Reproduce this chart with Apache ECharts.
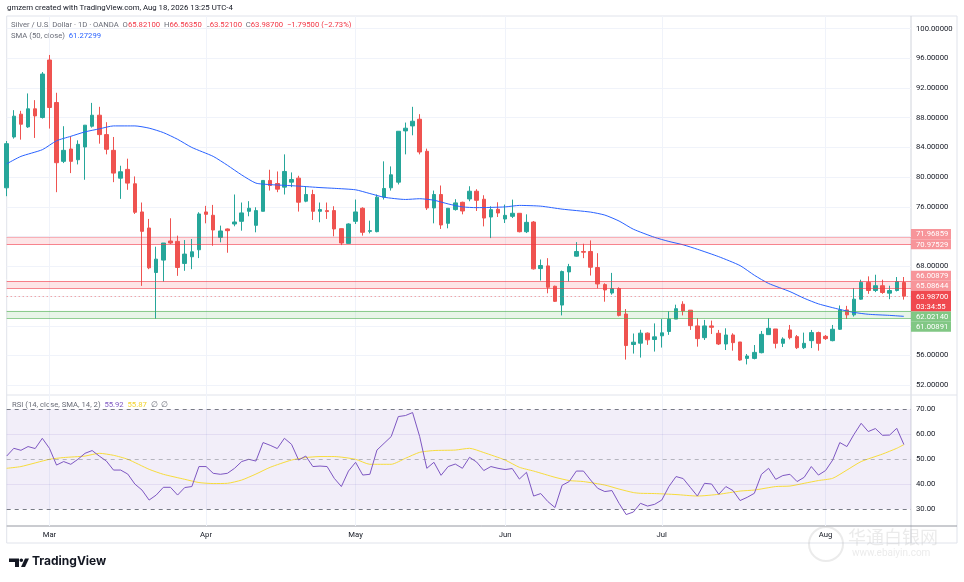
<!DOCTYPE html>
<html>
<head>
<meta charset="utf-8">
<title>Silver / U.S. Dollar 1D</title>
<script src="https://cdn.jsdelivr.net/npm/echarts@6/dist/echarts.min.js"></script>
<style>
  html, body { margin: 0; padding: 0; background: #fff; }
  #chart { width: 964px; height: 582px; }
</style>
</head>
<body>
<div id="chart"></div>
<script>
// trading days: weekdays 2026-02-20 .. 2026-08-18, Good Friday closed
const holidays = ['2026-04-03'];
const dates = [];
(function () {
  const d = new Date(Date.UTC(2026, 1, 20));
  const end = Date.UTC(2026, 7, 18);
  while (d.getTime() <= end) {
    const wd = d.getUTCDay();
    const s = d.toISOString().slice(0, 10);
    if (wd !== 0 && wd !== 6 && holidays.indexOf(s) < 0) dates.push(s);
    d.setUTCDate(d.getUTCDate() + 1);
  }
})();
const monthNames = ['Jan', 'Feb', 'Mar', 'Apr', 'May', 'Jun', 'Jul', 'Aug', 'Sep', 'Oct', 'Nov', 'Dec'];

// OHLC
const opens = [78.57, 85.41, 88.48, 86.77, 89.20, 88.03, 95.77, 90.05, 82.13, 83.79,
  82.35, 84.06, 86.86, 88.34, 85.73, 83.61, 79.87, 81.05, 79.11, 75.32,
  73.16, 67.17, 68.84, 71.41, 71.36, 68.39, 69.29, 70.23, 75.32, 74.87,
  71.90, 73.03, 73.70, 74.06, 75.41, 73.52, 75.41, 79.56, 79.15, 78.66,
  79.33, 79.87, 76.77, 77.67, 75.41, 75.50, 75.50, 73.07, 71.09, 74.06,
  75.82, 72.71, 72.67, 77.31, 78.57, 79.33, 86.23, 86.90, 87.80, 83.48,
  75.86, 77.67, 73.79, 75.64, 76.62, 77.07, 78.11, 77.03, 74.64, 75.68,
  74.37, 74.73, 75.14, 72.66, 73.96, 67.70, 68.06, 65.32, 62.79, 67.25,
  69.37, 70.00, 70.00, 67.84, 65.54, 64.41, 65.00, 61.58, 57.48, 57.66,
  59.01, 58.15, 58.65, 59.23, 60.90, 62.90, 62.10, 59.98, 58.40, 59.98,
  58.99, 57.55, 58.76, 57.82, 55.61, 55.61, 56.38, 58.81, 59.57, 57.64,
  59.44, 58.54, 57.05, 58.00, 59.08, 58.58, 58.00, 59.53, 62.14, 61.47,
  63.58, 65.84, 64.75, 65.39, 64.39, 64.75, 65.821];
const highs = [84.87, 89.02, 88.93, 91.27, 90.37, 94.15, 96.45, 91.36, 86.86, 85.50,
  84.96, 87.00, 90.00, 89.47, 87.40, 85.41, 81.54, 82.49, 80.10, 76.59,
  74.38, 70.64, 71.14, 74.47, 72.13, 71.54, 71.68, 75.28, 76.14, 76.27,
  73.48, 73.10, 77.67, 76.59, 76.77, 75.95, 79.60, 81.00, 80.77, 83.07,
  80.64, 80.19, 78.75, 78.30, 76.59, 76.59, 76.09, 73.10, 73.79, 76.99,
  75.95, 74.15, 77.67, 82.13, 81.45, 86.20, 87.35, 89.47, 88.48, 83.84,
  78.20, 78.88, 75.82, 77.04, 76.70, 78.78, 78.38, 77.57, 76.08, 76.62,
  76.31, 76.98, 75.14, 75.00, 74.10, 68.92, 69.10, 65.40, 67.43, 68.33,
  71.26, 71.04, 71.49, 69.77, 65.72, 67.12, 65.18, 62.25, 58.96, 59.46,
  59.10, 60.32, 60.90, 61.94, 62.84, 63.30, 62.10, 61.02, 60.79, 60.70,
  59.44, 59.66, 58.99, 57.82, 56.20, 57.41, 59.30, 61.02, 59.57, 58.45,
  60.11, 58.76, 59.08, 59.44, 59.21, 58.76, 60.11, 62.73, 62.68, 65.07,
  66.20, 66.65, 66.87, 66.20, 65.39, 66.56, 66.5635];
const lows = [77.44, 85.19, 85.05, 86.63, 85.28, 87.89, 86.54, 77.98, 81.90, 80.55,
  81.72, 79.65, 86.68, 84.51, 83.07, 79.33, 77.08, 78.30, 75.05, 65.37,
  67.62, 60.95, 65.95, 71.00, 66.72, 67.40, 67.62, 69.11, 73.79, 70.77,
  71.23, 69.83, 73.39, 72.80, 74.74, 72.58, 75.40, 78.20, 77.98, 77.67,
  78.66, 75.37, 76.63, 74.24, 73.93, 74.38, 72.04, 70.86, 71.09, 73.70,
  72.13, 72.44, 72.58, 76.99, 78.20, 79.02, 83.07, 85.64, 83.07, 75.59,
  73.79, 73.03, 73.12, 75.50, 75.00, 76.76, 75.45, 73.38, 71.80, 74.64,
  73.83, 74.50, 72.57, 72.48, 67.57, 66.08, 64.37, 63.20, 61.40, 65.95,
  69.30, 69.10, 66.76, 65.05, 63.24, 64.19, 61.26, 55.45, 56.26, 55.72,
  57.43, 56.53, 57.07, 58.78, 60.90, 61.40, 59.44, 57.19, 58.09, 58.90,
  57.41, 56.74, 56.65, 55.30, 54.80, 55.48, 56.29, 58.81, 56.96, 57.14,
  58.18, 56.87, 56.87, 57.00, 56.65, 58.09, 57.91, 59.44, 60.93, 61.24,
  63.50, 64.30, 64.53, 64.30, 63.58, 64.62, 63.521];
const closes = [84.51, 88.21, 87.13, 89.20, 88.25, 93.88, 89.38, 81.95, 83.61, 82.13,
  84.42, 87.00, 88.34, 85.73, 83.75, 80.55, 80.73, 79.20, 75.28, 72.71,
  67.80, 68.97, 71.14, 71.14, 67.85, 69.65, 69.96, 75.05, 75.00, 72.89,
  72.76, 72.80, 73.97, 75.19, 75.82, 75.50, 79.56, 78.88, 78.39, 80.77,
  79.69, 76.63, 77.67, 75.41, 75.64, 75.37, 73.03, 71.14, 73.70, 75.32,
  72.58, 72.80, 77.31, 78.48, 80.32, 86.18, 86.59, 87.53, 83.39, 75.86,
  77.67, 73.57, 75.82, 76.54, 75.45, 78.11, 76.89, 74.50, 75.63, 75.18,
  74.86, 75.14, 72.66, 73.92, 67.66, 68.11, 65.18, 63.29, 67.30, 67.97,
  70.00, 69.90, 67.88, 65.63, 64.82, 65.00, 61.40, 57.34, 57.79, 59.01,
  58.11, 58.51, 59.05, 60.90, 62.30, 62.00, 60.02, 58.27, 59.98, 59.80,
  57.55, 58.76, 57.73, 55.39, 55.93, 56.42, 58.85, 59.66, 57.64, 58.22,
  58.40, 57.05, 57.64, 59.08, 57.64, 58.27, 59.53, 62.14, 61.47, 63.58,
  65.84, 64.75, 65.39, 64.48, 64.75, 65.93, 63.987];

// SMA(50) readings [bar index, value]
const smaPoints = [[0, 81.8], [2, 82.8], [5, 83.7], [7, 84.9], [9, 85.5], [11, 86.1], [13, 86.5],
  [15, 86.9], [18, 86.9], [20, 86.6], [22, 86.0], [24, 85.1], [26, 84.0], [29, 82.8], [31, 81.6],
  [33, 80.3], [35, 79.2], [37, 79.0], [39, 78.9], [41, 78.8], [44, 78.6], [46, 78.5], [49, 78.3],
  [51, 77.8], [53, 77.3], [56, 77.0], [58, 77.1], [60, 76.9], [62, 76.4], [64, 76.0], [66, 75.9],
  [70, 76.0], [72, 76.2], [75, 76.1], [78, 75.7], [82, 75.3], [84, 74.9], [86, 74.1], [88, 73.0],
  [91, 71.9], [93, 71.35], [95, 70.9], [97, 70.3], [100, 69.3], [103, 68.1], [105, 66.8],
  [107, 65.7], [110, 64.6], [112, 63.7], [114, 62.95], [117, 62.2], [119, 61.8], [121, 61.55],
  [124, 61.4], [126, 61.27]];

// RSI(14) per bar
const rsiValues = [51.3, 54.4, 53.6, 55.1, 54.3, 58.4, 54.4, 47.7, 49.1, 48.0,
  50.0, 52.4, 53.5, 51.3, 49.3, 45.7, 45.7, 44.1, 40.1, 37.7,
  33.7, 35.7, 38.8, 38.8, 35.7, 38.7, 39.1, 47.1, 47.1, 44.4,
  44.0, 44.4, 46.4, 49.1, 50.0, 49.3, 56.7, 55.6, 54.3, 58.4,
  56.0, 49.7, 51.3, 47.1, 47.3, 47.1, 42.4, 39.1, 45.3, 48.8,
  43.7, 44.0, 53.7, 56.4, 59.1, 67.1, 67.5, 68.7, 59.1, 46.4,
  48.8, 43.6, 47.1, 48.1, 46.4, 50.8, 48.9, 45.5, 47.1, 46.4,
  45.9, 46.3, 42.1, 44.8, 35.3, 36.3, 33.1, 30.7, 39.6, 41.1,
  45.3, 45.3, 41.7, 38.4, 37.1, 37.5, 32.4, 27.9, 28.9, 32.4,
  31.3, 32.0, 33.7, 39.1, 43.1, 42.3, 38.8, 35.3, 40.4, 40.1,
  36.0, 39.1, 37.5, 33.5, 34.8, 36.4, 44.0, 46.4, 42.0, 43.5,
  44.0, 41.1, 42.8, 47.1, 43.7, 45.5, 49.7, 56.7, 55.1, 60.0,
  64.4, 61.1, 62.3, 59.6, 59.7, 62.4, 55.92];
// RSI-based MA readings [bar index, value]
const rsiMaPoints = [[0, 46.4], [2, 47.1], [6, 50.0], [8, 50.7], [11, 51.3], [13, 52.4], [15, 51.6],
  [17, 50.0], [20, 46.0], [22, 44.0], [25, 42.0], [27, 40.7], [29, 40.3], [31, 40.4], [33, 41.7],
  [35, 44.1], [37, 46.8], [40, 49.7], [42, 50.7], [44, 51.1], [46, 51.1], [49, 50.0], [51, 48.0],
  [54, 48.0], [56, 50.4], [58, 52.8], [60, 53.5], [63, 53.7], [65, 54.4], [67, 52.7], [70, 49.7],
  [72, 46.8], [74, 45.3], [77, 42.8], [79, 41.5], [81, 41.1], [84, 39.7], [86, 38.1], [88, 36.7],
  [89, 36.4], [91, 36.3], [94, 35.9], [97, 35.3], [100, 36.0], [103, 37.3], [105, 37.7],
  [108, 39.1], [110, 39.3], [112, 40.4], [114, 41.5], [116, 42.4], [118, 45.7], [120, 49.1],
  [123, 52.1], [125, 54.4], [126, 55.87]];

// drawn zones and price tags
const resistZone = [70.97529, 71.96859];
const pivotZone = [65.08644, 66.00879];
const supportZone = [61.00891, 62.02140];
const lastPrice = 63.987;
const countdown = '03:34:55';
const tagValues = [71.96859, 70.97529, 66.00879, 65.08644, 63.98700, 62.02140, 61.00891];
const tagKinds = ['zone', 'zone', 'zone', 'zone', 'last', 'support', 'support'];

// axis ticks
const priceGridLevels = [52, 56, 60, 64, 68, 72, 76, 80, 84, 88, 92, 96, 100];
const priceTickLabels = [52, 56, 68, 76, 80, 84, 88, 92, 96, 100];
const rsiLevels = [30, 40, 50, 60, 70];

const cats = dates.concat(['']);
const isMonthStart = cats.map(function (d, i) {
  return i > 0 && d !== '' && d.slice(5, 7) !== cats[i - 1].slice(5, 7);
});
function monthTick(index) { return isMonthStart[index]; }
function monthLabel(value) { return value ? monthNames[+value.slice(5, 7) - 1] : ''; }

const candles = opens.map(function (o, i) { return [o, closes[i], lows[i], highs[i]]; });

const UP = '#26a69a', DOWN = '#ef5350';
const FONT = 'Roboto, "Liberation Sans", sans-serif';
const SMALL = 7.7;
const tagColors = { zone: '#f7959a', last: '#f0494f', support: '#81c784' };

function renderTags(params, api) {
  const cs = params.coordSys;
  const x0 = cs.x + cs.width;
  const h = 10.2, w = 40;
  const items = tagValues.map(function (v, i) {
    return { v: v, kind: tagKinds[i], y: api.coord([0, v])[1] };
  });
  // keep the last-price tag in place, push the others clear of it
  const ai = tagKinds.indexOf('last');
  let top = items[ai].y - h / 2;
  for (let i = ai - 1; i >= 0; i--) {
    items[i].y = Math.min(items[i].y, top - h / 2);
    top = items[i].y - h / 2;
  }
  let bottom = items[ai].y + h * 1.5;
  for (let i = ai + 1; i < items.length; i++) {
    items[i].y = Math.max(items[i].y, bottom + h / 2);
    bottom = items[i].y + h / 2;
  }
  const children = [];
  items.forEach(function (it) {
    const tall = it.kind === 'last';
    children.push({ type: 'rect', shape: { x: x0, y: it.y - h / 2, width: w, height: tall ? h * 2 : h },
      style: { fill: tagColors[it.kind] } });
    children.push({ type: 'text', x: x0 + 5, y: it.y + 0.5,
      style: { text: it.v.toFixed(5), fill: '#ffffff', font: SMALL + 'px ' + FONT, align: 'left', verticalAlign: 'middle' } });
    if (tall) {
      children.push({ type: 'text', x: x0 + 5, y: it.y + h + 0.5,
        style: { text: countdown, fill: '#ffffff', font: SMALL + 'px ' + FONT, align: 'left', verticalAlign: 'middle' } });
    }
  });
  return { type: 'group', children: children };
}

const chart = echarts.init(document.getElementById('chart'));

const axisText = { color: '#131722', fontSize: SMALL, fontFamily: FONT };
const gridLine = { show: true, lineStyle: { color: '#f0f3fa', width: 1 } };
const gray = { fill: '#6a6d78', fontSize: SMALL, fontFamily: FONT };

const option = {
  animation: false,
  backgroundColor: '#ffffff',
  textStyle: { fontFamily: FONT },
  grid: [
    { left: 6.7, right: 53, top: 16, height: 379 },
    { left: 6.7, right: 53, top: 395, height: 131 }
  ],
  xAxis: [
    { type: 'category', gridIndex: 0, data: cats, boundaryGap: false,
      axisLine: { show: false }, axisTick: { show: false }, axisLabel: { show: false },
      splitLine: Object.assign({ interval: monthTick }, gridLine) },
    { type: 'category', gridIndex: 1, data: cats, boundaryGap: false,
      axisLine: { show: false }, axisTick: { show: false },
      axisLabel: Object.assign({ interval: monthTick, formatter: monthLabel, margin: 5 }, axisText),
      splitLine: Object.assign({ interval: monthTick }, gridLine) }
  ],
  yAxis: [
    { type: 'value', gridIndex: 0, position: 'right', min: 50.684, max: 101.693, scale: true,
      axisLine: { show: false },
      axisTick: { show: false, customValues: priceGridLevels },
      axisLabel: Object.assign({ customValues: priceTickLabels, margin: 5,
        formatter: function (v) { return v.toFixed(5); } }, axisText),
      splitLine: gridLine },
    { type: 'value', gridIndex: 1, position: 'right', min: 23.32, max: 75.72, scale: true,
      axisLine: { show: false },
      axisTick: { show: false, customValues: rsiLevels },
      axisLabel: Object.assign({ customValues: rsiLevels, margin: 5,
        formatter: function (v) { return v.toFixed(2); } }, axisText),
      splitLine: { show: false } }
  ],
  series: [
    {
      type: 'candlestick', xAxisIndex: 0, yAxisIndex: 0, data: candles,
      barWidth: 4, clip: true,
      itemStyle: { color: UP, color0: DOWN, borderColor: UP, borderColor0: DOWN, borderWidth: 1 },
      markArea: {
        silent: true,
        data: [
          [{ yAxis: resistZone[0], itemStyle: { color: 'rgba(242,54,69,0.13)' } }, { yAxis: resistZone[1] }],
          [{ yAxis: pivotZone[0], itemStyle: { color: 'rgba(242,54,69,0.13)' } }, { yAxis: pivotZone[1] }],
          [{ yAxis: supportZone[0], itemStyle: { color: 'rgba(76,175,80,0.13)' } }, { yAxis: supportZone[1] }]
        ]
      },
      markLine: {
        silent: true, symbol: 'none', label: { show: false },
        data: [
          { yAxis: resistZone[1], lineStyle: { type: 'solid', width: 1, color: 'rgba(242,54,69,0.3)' } },
          { yAxis: resistZone[0], lineStyle: { type: 'solid', width: 1.2, color: 'rgba(242,54,69,0.6)' } },
          { yAxis: pivotZone[1], lineStyle: { type: 'solid', width: 1.2, color: 'rgba(242,54,69,0.6)' } },
          { yAxis: pivotZone[0], lineStyle: { type: 'solid', width: 1.2, color: 'rgba(242,54,69,0.6)' } },
          { yAxis: supportZone[1], lineStyle: { type: 'solid', width: 1.2, color: 'rgba(76,175,80,0.6)' } },
          { yAxis: supportZone[0], lineStyle: { type: 'solid', width: 1.2, color: 'rgba(76,175,80,0.6)' } },
          { yAxis: lastPrice, lineStyle: { type: [1, 3], width: 1, color: 'rgba(239,83,80,0.7)' } }
        ]
      }
    },
    {
      type: 'line', name: 'SMA 50', xAxisIndex: 0, yAxisIndex: 0, data: smaPoints,
      showSymbol: false, smooth: 0.2, z: 3,
      lineStyle: { color: '#2962ff', width: 1 }
    },
    {
      type: 'custom', xAxisIndex: 0, yAxisIndex: 0, data: [[0, lastPrice]],
      renderItem: renderTags, clip: false, silent: true, z: 10
    },
    {
      type: 'line', name: 'RSI', xAxisIndex: 1, yAxisIndex: 1, data: rsiValues,
      showSymbol: false, clip: false, z: 4,
      lineStyle: { color: '#7e57c2', width: 1 },
      markArea: {
        silent: true,
        data: [[{ yAxis: 30, itemStyle: { color: 'rgba(126,87,194,0.1)' } }, { yAxis: 70 }]]
      },
      markLine: {
        silent: true, symbol: 'none', label: { show: false },
        data: [
          { yAxis: 70, lineStyle: { type: [4, 4], width: 1, color: '#787b86' } },
          { yAxis: 60, lineStyle: { type: 'solid', width: 1, color: 'rgba(126,87,194,0.12)' } },
          { yAxis: 50, lineStyle: { type: [4, 4], width: 1, color: 'rgba(120,123,134,0.5)' } },
          { yAxis: 40, lineStyle: { type: 'solid', width: 1, color: 'rgba(126,87,194,0.12)' } },
          { yAxis: 30, lineStyle: { type: [4, 4], width: 1, color: '#787b86' } }
        ]
      }
    },
    {
      type: 'line', name: 'RSI MA', xAxisIndex: 1, yAxisIndex: 1, data: rsiMaPoints,
      showSymbol: false, smooth: 0.2, clip: false, z: 3,
      lineStyle: { color: '#f7dc3c', width: 1 }
    }
  ],
  graphic: [
    // frame
    { type: 'line', silent: true, shape: { x1: 6.7, y1: 16, x2: 957, y2: 16 }, style: { stroke: '#e0e3eb', lineWidth: 1 } },
    { type: 'line', silent: true, shape: { x1: 6.7, y1: 16, x2: 6.7, y2: 543 }, style: { stroke: '#e0e3eb', lineWidth: 1 } },
    { type: 'line', silent: true, shape: { x1: 957, y1: 16, x2: 957, y2: 543 }, style: { stroke: '#e0e3eb', lineWidth: 1 } },
    { type: 'line', silent: true, shape: { x1: 6.7, y1: 543, x2: 957, y2: 543 }, style: { stroke: '#e0e3eb', lineWidth: 1 } },
    { type: 'line', silent: true, shape: { x1: 911, y1: 16, x2: 911, y2: 543 }, style: { stroke: '#d1d4dc', lineWidth: 1 } },
    { type: 'line', silent: true, shape: { x1: 6.7, y1: 395, x2: 957, y2: 395 }, style: { stroke: '#e0e3eb', lineWidth: 1 } },
    { type: 'line', silent: true, shape: { x1: 6.7, y1: 526, x2: 957, y2: 526 }, style: { stroke: '#9598a1', lineWidth: 1 } },
    // header
    { type: 'text', left: 7, top: 4, silent: true,
      style: { text: 'gmzern created with TradingView.com, Aug 18, 2026 13:25 UTC-4', fill: '#131722', font: '7.8px ' + FONT } },
    { type: 'text', left: 11, top: 21.5, silent: true,
      style: {
        text: '{g|Silver / U.S. Dollar · 1D · OANDA}  {g|O}{r|65.82100}  {g|H}{r|66.56350}  {g|L}{r|63.52100}  {g|C}{r|63.98700}  {r|−1.79500 (−2.73%)}',
        font: SMALL + 'px ' + FONT,
        rich: { g: gray, r: { fill: '#f23645', fontSize: SMALL, fontFamily: FONT } }
      } },
    { type: 'text', left: 11, top: 32.5, silent: true,
      style: {
        text: '{g|SMA (50, close)}  {b|61.27299}',
        font: SMALL + 'px ' + FONT,
        rich: { g: gray, b: { fill: '#2962ff', fontSize: SMALL, fontFamily: FONT } }
      } },
    { type: 'text', left: 12, top: 401, silent: true,
      style: {
        text: '{g|RSI (14, close, SMA, 14, 2)}  {p|55.92}  {y|55.87}  {g|∅  ∅}',
        font: SMALL + 'px ' + FONT,
        rich: {
          g: gray,
          p: { fill: '#7e57c2', fontSize: SMALL, fontFamily: FONT },
          y: { fill: '#f2d32c', fontSize: SMALL, fontFamily: FONT }
        }
      } },
    // TradingView logo
    { type: 'polygon', silent: true, shape: { points: [[9, 558.5], [19, 558.5], [19, 567], [15, 567], [15, 562], [9, 562]] }, style: { fill: '#131722' } },
    { type: 'circle', silent: true, shape: { cx: 21.3, cy: 560.3, r: 1.8 }, style: { fill: '#131722' } },
    { type: 'polygon', silent: true, shape: { points: [[25, 558.5], [29, 558.5], [25, 567], [21, 567]] }, style: { fill: '#131722' } },
    { type: 'text', left: 32, top: 555, silent: true,
      style: { text: 'TradingView', fill: '#131722', font: 'bold 12px Inter, ' + FONT } },
    // watermark
    { type: 'circle', silent: true, shape: { cx: 826, cy: 544, r: 17 }, style: { fill: 'none', stroke: 'rgba(190,190,190,0.3)', lineWidth: 2 } },
    { type: 'text', left: 848, top: 528, silent: true,
      style: { text: '华通白银网', fill: 'rgba(190,190,190,0.3)', font: '18px "Noto Sans CJK SC"' } },
    { type: 'text', left: 852, top: 548, silent: true,
      style: { text: 'www.ebaiyin.com', fill: 'rgba(190,190,190,0.3)', font: '10px ' + FONT } }
  ]
};

chart.setOption(option);
</script>
</body>
</html>
